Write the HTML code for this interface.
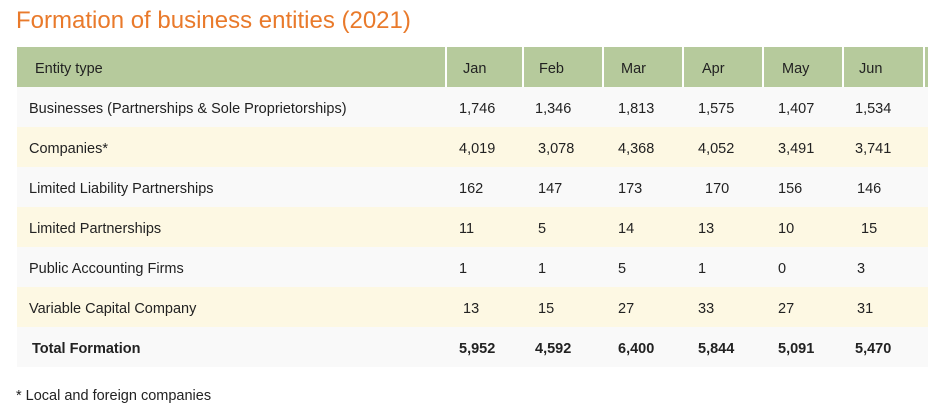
<!DOCTYPE html>
<html><head><style>
body{margin:0;width:928px;height:419px;background:#fff;font-family:"Liberation Sans",sans-serif;color:#222;position:relative;overflow:hidden}
.t{position:absolute;left:16px;top:7px;font-size:24px;color:#e97a2b;white-space:nowrap}
.r{position:absolute;left:17px;width:911px;height:40px}
.c{position:absolute;top:2px;height:40px;line-height:40px;font-size:14.5px;white-space:nowrap}
.h{background:#b6ca9c}
.o{background:#f9f9f9}
.e{background:#fdf8e3}
.d{position:absolute;top:47px;height:40px;width:2px;background:#fff}
.b{font-weight:bold}
.f{position:absolute;left:16px;top:388px;font-size:14.5px}
</style></head><body>
<div class="t">Formation of business entities (2021)</div>
<div class="r h" style="top:47px">
<div class="c" style="left:18px">Entity type</div>
<div class="c" style="left:446px">Jan</div><div class="c" style="left:522px">Feb</div><div class="c" style="left:604px">Mar</div><div class="c" style="left:685px">Apr</div><div class="c" style="left:765px">May</div><div class="c" style="left:842px">Jun</div>
</div>
<div class="d" style="left:445px"></div><div class="d" style="left:522px"></div><div class="d" style="left:602px"></div><div class="d" style="left:682px"></div><div class="d" style="left:762px"></div><div class="d" style="left:842px"></div><div class="d" style="left:923px"></div>
<div class="r o" style="top:87px"><div class="c" style="left:12px">Businesses (Partnerships &amp; Sole Proprietorships)</div><div class="c" style="left:442px">1,746</div><div class="c" style="left:518px">1,346</div><div class="c" style="left:601px">1,813</div><div class="c" style="left:681px">1,575</div><div class="c" style="left:761px">1,407</div><div class="c" style="left:838px">1,534</div></div>
<div class="r e" style="top:127px"><div class="c" style="left:12px">Companies*</div><div class="c" style="left:442px">4,019</div><div class="c" style="left:521px">3,078</div><div class="c" style="left:601px">4,368</div><div class="c" style="left:681px">4,052</div><div class="c" style="left:761px">3,491</div><div class="c" style="left:838px">3,741</div></div>
<div class="r o" style="top:167px"><div class="c" style="left:12px">Limited Liability Partnerships</div><div class="c" style="left:442px">162</div><div class="c" style="left:521px">147</div><div class="c" style="left:601px">173</div><div class="c" style="left:688px">170</div><div class="c" style="left:761px">156</div><div class="c" style="left:840px">146</div></div>
<div class="r e" style="top:207px"><div class="c" style="left:12px">Limited Partnerships</div><div class="c" style="left:442px">11</div><div class="c" style="left:521px">5</div><div class="c" style="left:601px">14</div><div class="c" style="left:681px">13</div><div class="c" style="left:761px">10</div><div class="c" style="left:844px">15</div></div>
<div class="r o" style="top:247px"><div class="c" style="left:12px">Public Accounting Firms</div><div class="c" style="left:442px">1</div><div class="c" style="left:521px">1</div><div class="c" style="left:601px">5</div><div class="c" style="left:681px">1</div><div class="c" style="left:761px">0</div><div class="c" style="left:840px">3</div></div>
<div class="r e" style="top:287px"><div class="c" style="left:12px">Variable Capital Company</div><div class="c" style="left:446px">13</div><div class="c" style="left:521px">15</div><div class="c" style="left:601px">27</div><div class="c" style="left:681px">33</div><div class="c" style="left:761px">27</div><div class="c" style="left:840px">31</div></div>
<div class="r o b" style="top:327px"><div class="c" style="left:15px">Total Formation</div><div class="c" style="left:442px">5,952</div><div class="c" style="left:518px">4,592</div><div class="c" style="left:601px">6,400</div><div class="c" style="left:681px">5,844</div><div class="c" style="left:761px">5,091</div><div class="c" style="left:838px">5,470</div></div>
<div class="f">* Local and foreign companies</div>
</body></html>
